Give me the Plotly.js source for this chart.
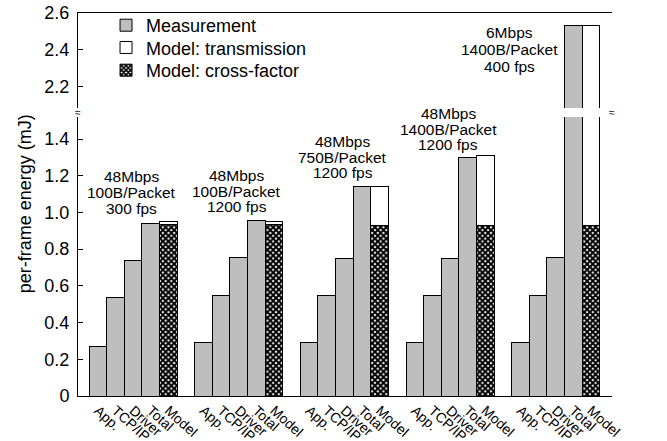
<!DOCTYPE html>
<html>
<head>
<meta charset="utf-8">
<script src="https://cdn.plot.ly/plotly-3.0.1.min.js"></script>
<style>html,body{margin:0;padding:0;background:#fff;}#chart{width:667px;height:441px;}</style>
</head>
<body>
<div id="chart"></div>
<script>
// ---- data ----
const categories = ['App.', 'TCP/IP', 'Driver', 'Total', 'Model'];
const rateLabels = ['48Mbps', '48Mbps', '48Mbps', '48Mbps', '6Mbps'];
const packetLabels = ['100B/Packet', '100B/Packet', '750B/Packet', '1400B/Packet', '1400B/Packet'];
const fpsLabels = ['300 fps', '1200 fps', '1200 fps', '1200 fps', '400 fps'];
const appEnergy = [0.272, 0.292, 0.292, 0.292, 0.292];
const tcpEnergy = [0.536, 0.550, 0.550, 0.550, 0.550];
const driverEnergy = [0.739, 0.752, 0.750, 0.750, 0.754];
const totalEnergy = [0.941, 0.957, 1.139, 1.299, 2.530];
const modelCrossFactor = [0.932, 0.932, 0.930, 0.930, 0.928];
const modelTransmission = [0.020, 0.020, 0.209, 0.378, 1.602];
const yTicksLow = [0, 0.2, 0.4, 0.6, 0.8, 1.0, 1.2, 1.4];
const yTickTextLow = ['0', '0.2', '0.4', '0.6', '0.8', '1.0', '1.2', '1.4'];
const yTicksHigh = [2.2, 2.4, 2.6];
const yTickTextHigh = ['2.2', '2.4', '2.6'];

// ---- layout helpers ----
const GROUP_STEP = 6;
const nGroups = appEnergy.length;
const measX = [], measY = [], modelX = [], tickVals = [], tickText = [];
const measSeries = [appEnergy, tcpEnergy, driverEnergy, totalEnergy];
for (let g = 0; g < nGroups; g++) {
  for (let j = 0; j < 4; j++) {
    measX.push(g * GROUP_STEP + j);
    measY.push(measSeries[j][g]);
  }
  modelX.push(g * GROUP_STEP + 4);
  for (let j = 0; j < 5; j++) { tickVals.push(g * GROUP_STEP + j); tickText.push(categories[j]); }
}

const FONT = 'Liberation Sans, Arial, Helvetica, sans-serif';
const GRAY = '#bebebe';
const lineStyle = {color: '#000', width: 1};

function makeTraces(xa, ya, legend) {
  return [
    {type: 'bar', name: 'Measurement', x: measX, y: measY, xaxis: xa, yaxis: ya, width: 1,
     marker: {color: GRAY, line: lineStyle}, showlegend: legend, legend: 'legend', hoverinfo: 'y'},
    {type: 'bar', name: 'Model: cross-factor', x: modelX, y: modelCrossFactor, xaxis: xa, yaxis: ya, width: 1,
     marker: {color: '#fff', line: lineStyle,
              pattern: {shape: 'x', fgcolor: '#000', bgcolor: '#fff', size: 4, solidity: 0.75, fillmode: 'replace'}},
     showlegend: legend, legend: 'legend3', hoverinfo: 'y'},
    {type: 'bar', name: 'Model: transmission', x: modelX, y: modelTransmission, xaxis: xa, yaxis: ya, width: 1,
     marker: {color: '#fff', line: lineStyle}, showlegend: legend, legend: 'legend2', hoverinfo: 'y'}
  ];
}

const data = makeTraces('x', 'y', true).concat(makeTraces('x2', 'y3', false));

const annotations = [];
const labelFont = {family: FONT, size: 15.5, color: '#000'};
// group labels for groups 1-4 (one annotation per line), vertical position in paper units
const labelYs = [[0.5726, 0.5308, 0.4901], [0.5762, 0.5345, 0.4940],
                 [0.6640, 0.6222, 0.5841], [0.7381, 0.6963, 0.6554]];
for (let g = 0; g < 4; g++) {
  const lines = [rateLabels[g], packetLabels[g], fpsLabels[g]];
  for (let k = 0; k < 3; k++) {
    annotations.push({x: g * GROUP_STEP + 1.9, y: labelYs[g][k], xref: 'x', yref: 'paper', text: lines[k],
      showarrow: false, xanchor: 'center', yanchor: 'middle', font: labelFont});
  }
}
const highYs = [2.496, 2.404, 2.311];
const g5 = [rateLabels[4], packetLabels[4], fpsLabels[4]];
for (let k = 0; k < 3; k++) {
  annotations.push({x: 4 * GROUP_STEP - 0.64, y: highYs[k], xref: 'x2', yref: 'y3', text: g5[k],
    showarrow: false, xanchor: 'center', yanchor: 'middle', font: labelFont});
}
// y title
annotations.push({x: -0.099, y: 0.501, xref: 'paper', yref: 'paper', text: 'per-frame energy (mJ)', textangle: -90,
  showarrow: false, xanchor: 'center', yanchor: 'middle', font: {family: FONT, size: 18, color: '#000'}});
// break marks
[0, 1].forEach(function (px) {
  annotations.push({x: px, y: 0.7405, xref: 'paper', yref: 'paper', text: '≈', showarrow: false,
    xanchor: 'center', yanchor: 'middle', font: {family: FONT, size: 10, color: '#000'}});
});

const yCommon = {showgrid: false, zeroline: false, showline: true, linecolor: '#000', linewidth: 1,
  ticks: 'inside', ticklen: 5, tickwidth: 1, tickcolor: '#000', ticklabelstandoff: 4,
  tickfont: {family: FONT, size: 18, color: '#000'}};

function legendAt(yContainer) {
  return {x: 0.0525, y: yContainer, xref: 'paper', yref: 'container', xanchor: 'left', yanchor: 'top',
    bgcolor: 'rgba(0,0,0,0)', borderwidth: 0,
    font: {family: FONT, size: 18, color: '#000'}, itemclick: false, itemdoubleclick: false};
}

const layout = {
  width: 667, height: 441,
  margin: {l: 78, r: 55, t: 13, b: 45, pad: 0, autoexpand: false},
  paper_bgcolor: '#fff', plot_bgcolor: '#fff',
  font: {family: FONT, color: '#000'},
  barmode: 'stack', bargap: 0,
  showlegend: true,
  legend: legendAt(0.9841),
  legend2: legendAt(0.9336),
  legend3: legendAt(0.8821),
  xaxis: {domain: [0, 1], range: [-1.13, 29.2], anchor: 'y', showgrid: false, zeroline: false,
    showline: true, linecolor: '#000', linewidth: 1, ticks: '', tickvals: tickVals, ticktext: tickText,
    tickangle: 42, tickfont: {family: FONT, size: 14, color: '#000'}},
  xaxis2: {domain: [0, 1], matches: 'x', anchor: 'y3', side: 'top', showgrid: false, zeroline: false,
    showline: true, linecolor: '#000', linewidth: 1, ticks: '', showticklabels: false},
  yaxis: Object.assign({}, yCommon, {domain: [0, 0.7285], range: [0, 1.52], anchor: 'x',
    tickvals: yTicksLow, ticktext: yTickTextLow}),
  yaxis2: Object.assign({}, yCommon, {domain: [0, 0.7285], range: [0, 1.52], anchor: 'x', overlaying: 'y', side: 'right',
    tickvals: yTicksLow, ticktext: yTickTextLow}),
  yaxis3: Object.assign({}, yCommon, {domain: [0.752, 1], range: [2.082, 2.601], anchor: 'x2',
    tickvals: yTicksHigh, ticktext: yTickTextHigh}),
  yaxis4: Object.assign({}, yCommon, {domain: [0.752, 1], range: [2.082, 2.601], anchor: 'x2', overlaying: 'y3', side: 'right',
    tickvals: yTicksHigh, ticktext: yTickTextHigh}),
  annotations: annotations
};

Plotly.newPlot('chart', data, layout, {displayModeBar: false, staticPlot: true});
</script>
</body>
</html>
